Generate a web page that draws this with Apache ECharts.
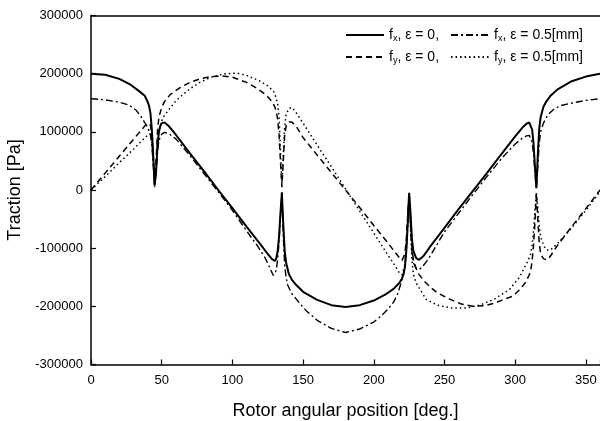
<!DOCTYPE html>
<html><head><meta charset="utf-8">
<script src="https://cdn.jsdelivr.net/npm/echarts@6/dist/echarts.min.js"></script>
<style>html,body{margin:0;padding:0;background:#fff}#c{width:600px;height:421px}</style>
</head><body><div id="c"></div>
<script>
// ---- data ----
const xTickLabels = [0, 50, 100, 150, 200, 250, 300, 350];
const yTickLabels = [-300000, -200000, -100000, 0, 100000, 200000, 300000];

// f_x, eps = 0 (solid)
const fx0Deg = [0,10,20,28,34,38,40,41,42,43,44,45,46,47,48,49,50,52,55,60,70,80,90,100,110,120,125,128,130,131,132,133,134,135,136,137,138,140,142,145,150,160,170,180,190,200,208,214,218,220,221,222,223,224,225,226,227,228,230,232,235,240,250,260,270,280,290,300,305,308,310,311,312,313,314,315,316,317,318,320,322,325,330,340,350,360];
const fx0Val = [200000,198000,191000,181000,170000,162000,152000,145000,133000,105000,60000,8000,30000,75000,100000,110000,115000,116000,110000,95000,63000,32000,0,-31000,-63000,-94000,-110000,-119000,-122000,-118000,-105000,-80000,-40000,-4000,-60000,-105000,-125000,-145000,-154000,-163000,-175000,-189000,-198000,-201000,-198000,-190000,-180000,-170000,-160000,-152000,-145000,-133000,-105000,-60000,-5000,-40000,-85000,-105000,-117000,-120000,-114000,-97000,-65000,-33000,-2000,29000,61000,92000,107000,114000,116000,113000,104000,80000,40000,3000,60000,105000,125000,143000,152000,162000,173000,187000,195000,200000];

// f_x, eps = 0.5 mm (dash-dot)
const fxeDeg = [0,10,20,27,32,36,38,40,42,43,44,45,46,47,48,50,52,55,60,70,80,90,100,110,118,123,126,128,129,130,131,132,133,134,135,136,137,138,139,142,147,152,160,170,180,190,200,205,210,214,217,219,221,222,223,224,225,226,227,228,230,232,234,237,240,250,260,270,280,290,296,300,305,308,310,311,312,313,314,315,316,317,318,320,323,327,332,339,350,360];
const fxeVal = [157000,155000,151000,146000,137000,124000,116000,108000,95000,78000,45000,6000,30000,65000,85000,96000,99000,97000,88000,59000,28000,-3000,-35000,-70000,-97000,-116000,-131000,-142000,-147000,-145000,-138000,-120000,-90000,-45000,-6000,-80000,-130000,-150000,-163000,-178000,-193000,-207000,-224000,-238000,-245000,-239000,-227000,-217000,-205000,-193000,-178000,-162000,-145000,-130000,-100000,-50000,-8000,-60000,-105000,-125000,-135000,-137000,-133000,-124000,-113000,-72000,-40000,-8000,23000,53000,69000,79000,89000,93000,94000,91000,82000,62000,30000,3000,40000,80000,100000,115000,129000,138000,145000,149000,154000,157000];

// f_y, eps = 0 (dashed)
const fy0Deg = [0,10,20,30,36,38,40,41,42,43,44,45,46,47,48,50,52,56,63,70,77,85,93,100,110,118,124,128,130,131,132,133,134,135,136,137,138,140,142,145,150,160,170,180,190,200,210,215,218,220,221,222,223,224,225,226,227,228,230,232,235,240,245,254,262,270,278,285,292,298,303,307,310,311,312,313,314,315,316,317,318,320,322,324,330,340,350,360];
const fy0Val = [0,29000,58000,87000,104000,110000,115000,116000,112000,95000,60000,10000,50000,100000,125000,142000,152000,164000,176000,185000,191000,195000,196000,194000,185000,174000,163000,152000,143000,135000,122000,95000,50000,5000,50000,95000,110000,117000,117000,110000,90000,60000,30000,0,-30000,-61000,-91000,-107000,-116000,-121000,-119000,-110000,-85000,-45000,-5000,-50000,-100000,-120000,-135000,-145000,-155000,-167000,-177000,-188000,-196000,-200000,-199000,-195000,-188000,-183000,-172000,-160000,-146000,-138000,-122000,-95000,-55000,-5000,-50000,-90000,-110000,-118000,-120000,-117000,-95000,-63000,-32000,0];

// f_y, eps = 0.5 mm (dotted)
const fyeDeg = [0,10,20,30,36,40,42,43,44,45,46,47,48,50,51,55,60,63,70,77,85,95,103,110,119,125,129,130,131,132,133,134,135,136,137,138,140,142,144,150,160,170,180,190,200,210,215,218,220,221,222,223,224,225,226,227,228,230,233,237,245,255,265,275,285,296,303,309,311,312,313,314,315,316,317,318,320,322,323,325,330,340,350,360];
const fyeVal = [0,23000,47000,70000,85000,94000,97000,85000,50000,5000,40000,80000,100000,118000,125000,138000,153000,160000,174000,185000,194000,200000,201000,197000,188000,179000,170000,165000,158000,148000,125000,70000,10000,60000,110000,130000,140000,142000,137000,115000,77000,40000,2000,-36000,-74000,-112000,-130000,-142000,-146000,-143000,-130000,-100000,-55000,-8000,-70000,-120000,-145000,-160000,-172000,-188000,-198000,-203000,-203000,-198000,-188000,-171000,-150000,-122000,-110000,-95000,-70000,-35000,-5000,-30000,-60000,-80000,-95000,-103000,-105000,-103000,-92000,-65000,-35000,-3000];

const seriesNames = ['fx0', 'fxe', 'fy0', 'fye'];
const legendTexts = {
  fx0: '{t|f}{s|x}{t|, ε = 0,}',
  fxe: '{t|f}{s|x}{t|, ε = 0.5[mm]}',
  fy0: '{t|f}{s|y}{t|, ε = 0,}',
  fye: '{t|f}{s|y}{t|, ε = 0.5[mm]}'
};

// ---- chart ----
const FONT = '"Liberation Sans", Arial, sans-serif';
const zip = (xs, ys) => xs.map((x, i) => [x, ys[i]]);
const chart = echarts.init(document.getElementById('c'), null, {renderer: 'canvas'});

const legendBase = {
  left: 345, itemWidth: 38, itemHeight: 14, itemGap: 11, padding: 0,
  selectedMode: false,
  itemStyle: {opacity: 0, borderWidth: 0},
  formatter: n => legendTexts[n],
  textStyle: {
    fontFamily: FONT, fontSize: 14, color: '#000',
    rich: {
      t: {fontFamily: FONT, fontSize: 14, color: '#000', lineHeight: 16},
      s: {fontFamily: FONT, fontSize: 9, color: '#000', lineHeight: 9, verticalAlign: 'bottom'}
    }
  }
};

const lineSeries = (name, xs, ys, type, width) => ({
  name, type: 'line', data: zip(xs, ys), showSymbol: false, symbol: 'none',
  smooth: false, animation: false, clip: true,
  itemStyle: {color: 'rgba(0,0,0,0)', borderWidth: 0},
  lineStyle: {color: '#000', width, type}
});

chart.setOption({
  animation: false,
  backgroundColor: '#fff',
  grid: {left: 91, right: 0, top: 15.5, bottom: 56.5, containLabel: false, outerBoundsMode: 'none'},
  legend: [
    Object.assign({}, legendBase, {top: 28, data: ['fx0', 'fxe']}),
    Object.assign({}, legendBase, {top: 50, data: ['fy0', 'fye']})
  ],
  xAxis: [{
    type: 'value', min: 0, max: 360, interval: 50, position: 'bottom',
    name: 'Rotor angular position [deg.]', nameLocation: 'middle', nameGap: 38,
    nameTextStyle: {fontFamily: FONT, fontSize: 18, color: '#000'},
    axisLine: {show: true, onZero: false, lineStyle: {color: '#000', width: 1.5}},
    axisTick: {show: true, inside: true, length: 5, lineStyle: {color: '#000', width: 1.2}},
    axisLabel: {fontFamily: FONT, fontSize: 13, color: '#000', margin: 9,
      formatter: v => xTickLabels.includes(v) ? String(v) : ''},
    splitLine: {show: false}
  }, {
    type: 'value', min: 0, max: 360, position: 'top',
    axisLine: {show: true, onZero: false, lineStyle: {color: '#000', width: 1.5}},
    axisTick: {show: false}, axisLabel: {show: false}, splitLine: {show: false}
  }],
  yAxis: {
    type: 'value', min: -300000, max: 300000, interval: 100000,
    name: 'Traction [Pa]', nameLocation: 'middle', nameGap: 61,
    nameTextStyle: {fontFamily: FONT, fontSize: 18, color: '#000'},
    axisLine: {show: true, onZero: false, lineStyle: {color: '#000', width: 1.5}},
    axisTick: {show: true, inside: true, length: 5, lineStyle: {color: '#000', width: 1.2}},
    axisLabel: {fontFamily: FONT, fontSize: 13, color: '#000', margin: 8,
      formatter: v => yTickLabels.includes(v) ? String(v) : ''},
    splitLine: {show: false}
  },
  series: [
    lineSeries('fx0', fx0Deg, fx0Val, 'solid', 2),
    lineSeries('fxe', fxeDeg, fxeVal, [7, 3, 2, 3], 1.4),
    lineSeries('fy0', fy0Deg, fy0Val, [6, 4], 1.5),
    lineSeries('fye', fyeDeg, fyeVal, [1.5, 3], 1.5)
  ]
});
</script></body></html>
